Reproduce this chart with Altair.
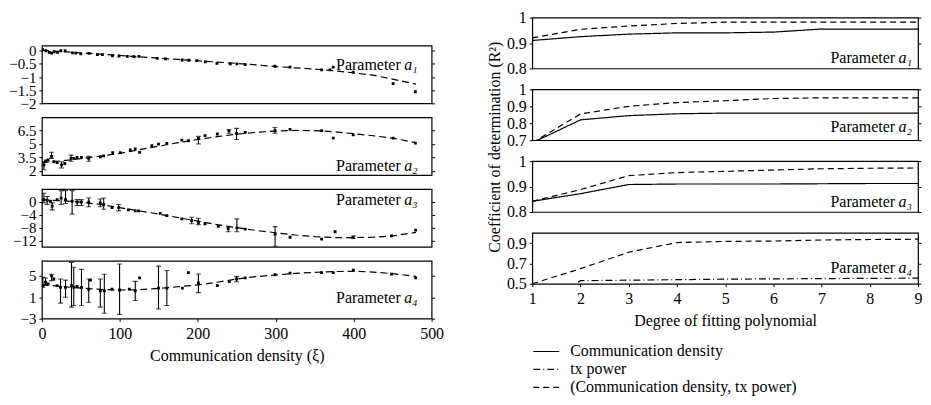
import altair as alt
import pandas as pd

FONT = "Liberation Serif"
FS = 16

# ---------------- left column: parameters vs communication density ----------------
FIT_X = [0, 25, 50, 75, 100, 125, 150, 175, 200, 225, 250, 275, 300, 325, 350, 375, 400, 425, 450, 480]

A1_X = [0.85, 5.1, 9.4, 12.4, 15.8, 20, 24.3, 29.8, 39.2, 43.5, 49.9, 60.5, 71.2, 77.6, 90.4, 98.9, 109.5, 118, 124.5, 148,
        158.6, 180, 188.4, 199, 209.7, 224.6, 241.7, 250.2, 260.9, 299, 318.4, 359, 369.6, 373.8, 399.4, 450.6, 479.1]
A1_Y = [0.04, 0, -0.06, -0.09, -0.04, -0.06, 0, 0, -0.08, -0.09, -0.12, -0.1, -0.15, -0.15, -0.19, -0.2, -0.21, -0.22, -0.21, -0.29,
        -0.31, -0.35, -0.36, -0.375, -0.42, -0.48, -0.5, -0.5, -0.525, -0.59, -0.625, -0.725, -0.725, -0.625, -0.81, -1.25, -1.56]
A1_EX = []
A1_LO = []
A1_HI = []
A1_FIT = [0.02, -0.03, -0.08, -0.13, -0.18, -0.23, -0.28, -0.33, -0.38, -0.43, -0.48, -0.54, -0.6, -0.65, -0.7, -0.76, -0.84, -0.93, -1.08, -1.27]

A2_X = [2.6, 4.7, 8, 12.4, 15.3, 19.6, 25.2, 29.4, 37.5, 40.9, 45.1, 50.7, 60.1, 75, 79.3, 90.8, 100.6, 113.4, 119.8, 125.3,
        141.1, 149.6, 160.3, 179.5, 188, 200.8, 209.3, 225.1, 240, 249.8, 260.9, 299, 318.4, 359, 373.8, 399.4, 450.6, 479.1]
A2_Y = [2.64, 3.1, 3.2, 3.6, 3.0, 2.9, 2.64, 2.8, 3.38, 3.38, 3.5, 3.5, 3.38, 3.56, 3.67, 4.03, 4.03, 4.33, 4.44, 4.06,
        4.8, 4.99, 5.06, 5.43, 5.36, 5.63, 5.93, 6.12, 6.5, 6.2, 6.31, 6.5, 6.65, 6.5, 5.65, 6.02, 5.65, 5.09]
A2_EX = [2.6, 12.4, 25.2, 37.5, 60.1, 200.8, 240, 249.8, 299]
A2_LO = [2.1, 3.38, 2.3, 3.05, 3.06, 5.0, 6.2, 5.5, 6.2]
A2_HI = [3.0, 4.06, 3.0, 3.75, 3.6, 5.85, 6.6, 6.75, 6.85]
A2_FIT = [2.9, 3.1, 3.35, 3.62, 3.95, 4.35, 4.75, 5.15, 5.5, 5.82, 6.1, 6.3, 6.45, 6.52, 6.5, 6.38, 6.15, 5.92, 5.65, 5.15]

A3_X = [2.6, 6.8, 11, 13.2, 19.6, 24.7, 30.3, 38.8, 45.2, 50.7, 60.1, 74.9, 79.3, 89.9, 98.5, 111, 119.8, 124, 151.8, 160.3,
        179.5, 192.2, 200.8, 209.3, 226.3, 239.1, 250.2, 260.9, 299.2, 318.4, 358.9, 376.2, 399.6, 448.6, 479.5]
A3_Y = [0.72, 0.5, 0.2, -1.3, 0.7, 1.2, 0.7, 0.2, -0.1, -0.1, -0.1, -0.3, -0.8, -1.8, -1.8, -2.5, -2.8, -2.8, -3.6, -4.3,
        -5.3, -5.8, -6.5, -6.8, -7.6, -8.3, -8.1, -8.5, -10.1, -11.0, -11.6, -9.3, -11.0, -10.6, -8.8]
A3_EX = [2.6, 6.8, 13.2, 24.7, 30.3, 38.8, 45.2, 50.7, 60.1, 74.9, 79.3, 98.5, 192.2, 200.8, 239.1, 250.2, 299.2, 399.6]
A3_LO = [-0.3, -0.8, -2.5, -0.8, -0.5, -3.8, -1.1, -1.1, -1.5, -1.5, -2.3, -2.8, -6.8, -7.1, -9.3, -9.3, -13.8, -11.4]
A3_HI = [2.7, 1.7, -0.3, 3.5, 3.5, 3.5, 0.7, 0.7, 1.2, 0.9, 1.2, -0.8, -4.8, -5.1, -7.8, -5.3, -7.7, -10.6]
A3_FIT = [0.6, 0.4, -0.1, -0.8, -1.8, -2.8, -3.8, -4.9, -6.0, -7.1, -8.0, -8.9, -9.6, -10.3, -10.8, -11.1, -11.1, -11.0, -10.6, -9.5]

A4_X = [1.3, 4.7, 8, 12.4, 15.3, 19.6, 23.9, 30.3, 38, 40.9, 45.1, 50.8, 60.1, 62.3, 75, 80.1, 89.9, 99.7, 112.1, 119.8,
        125.3, 149.6, 160.3, 180.3, 188, 200.8, 225.1, 240.4, 249.8, 260.9, 299.2, 318.4, 358.9, 373.8, 399.6, 448.6, 479.5]
A4_Y = [3.15, 3.8, 3.5, 5.0, 4.4, 3.15, 2.85, 2.85, 3.15, 2.85, 3.0, 2.85, 2.5, 4.2, 2.2, 2.2, 2.5, 2.35, 2.5, 2.2,
        4.6, 2.7, 2.7, 2.7, 5.6, 3.65, 3.15, 3.9, 4.4, 4.6, 5.2, 5.5, 5.6, 5.6, 6.05, 5.3, 4.6]
A4_EX = [1.3, 4.7, 12.4, 23.9, 30.3, 38, 40.9, 50.8, 60.1, 75, 80.1, 99.7, 119.8, 149.6, 160.3, 200.8, 249.8]
A4_LO = [2.85, 3.2, 4.1, -0.1, 1.0, -0.85, -0.55, -0.55, 0.06, -0.85, -2, -2.2, 0.38, -1.2, -0.55, 1.85, 3.9]
A4_HI = [4.7, 4.6, 5.3, 4.4, 4.2, 7.5, 6.6, 6.2, 4.4, 4.4, 5.3, 7.2, 3.96, 6.8, 6.0, 5.35, 4.9]
A4_FIT = [3.4, 3.0, 2.7, 2.45, 2.35, 2.4, 2.65, 2.95, 3.3, 3.8, 4.4, 4.85, 5.15, 5.45, 5.65, 5.8, 5.85, 5.7, 5.4, 4.9]

X_TICKS_LEFT = [0, 100, 200, 300, 400, 500]

# ---------------- right column: R^2 vs polynomial degree ----------------
DEG = [1, 2, 3, 4, 5, 6, 7, 8, 9]
SERIES = ["Communication density", "tx power", "(Communication density, tx power)"]
DASHES = [[1, 0], [7, 3, 1, 3], [6, 4]]

R1_CD = [0.91, 0.925, 0.935, 0.94, 0.94, 0.943, 0.955, 0.955, 0.955]
R1_JOINT = [0.92, 0.954, 0.967, 0.977, 0.982, 0.982, 0.982, 0.982, 0.982]
R2_CD = [0.685, 0.82, 0.845, 0.856, 0.86, 0.86, 0.86, 0.86, 0.86]
R2_JOINT = [0.685, 0.855, 0.9, 0.922, 0.933, 0.946, 0.95, 0.95, 0.95]
R3_CD = [0.842, 0.872, 0.908, 0.91, 0.91, 0.91, 0.911, 0.912, 0.912]
R3_JOINT = [0.842, 0.888, 0.943, 0.955, 0.96, 0.965, 0.97, 0.972, 0.973]
R4_TX = [0.2, 0.53, 0.535, 0.54, 0.545, 0.548, 0.55, 0.553, 0.555]
R4_JOINT = [0.5, 0.648, 0.81, 0.905, 0.916, 0.92, 0.93, 0.935, 0.938]

LW, LH = 391, 58
RW, RH = 387, 51
FMT = ".2~f"


def param_text(label, x, y):
    base = alt.Chart(pd.DataFrame({"t": ["Parameter"], "s": [label]}))
    t1 = base.mark_text(font=FONT, fontSize=FS, align="right", baseline="middle", color="black").encode(
        text="t:N", x=alt.value(x - 17), y=alt.value(y))
    t2 = base.mark_text(font=FONT, fontSize=FS, fontStyle="italic", align="right", baseline="middle",
                        color="black").encode(text="s:N", x=alt.value(x), y=alt.value(y))
    return [t1, t2]


def mirror_ticks(df, xenc, field, ys, ticks):
    """invisible layer that only carries a tick-only axis on the right edge"""
    return alt.Chart(df).mark_line(opacity=0).encode(
        x=xenc,
        y=alt.Y(field, scale=ys, axis=alt.Axis(orient="right", values=ticks, labels=False, tickSize=3,
                                                title=None)))


def left_panel(px, py, ex, elo, ehi, fy, domain, ticks, label, label_y, bottom):
    xs = alt.Scale(domain=[0, 500], nice=False)
    ys = alt.Scale(domain=domain, nice=False, zero=False)
    if bottom:
        xax = alt.Axis(values=X_TICKS_LEFT, title="Communication density (ξ)", format="d", labelPadding=4,
                       titlePadding=6, tickSize=3, labelFlush=False, labelOverlap=False)
    else:
        xax = alt.Axis(values=X_TICKS_LEFT, labels=False, ticks=False, title=None)
    yax = alt.Axis(values=ticks, title=None, format=FMT, labelPadding=3, tickSize=3, labelOverlap=False,
                   labelFontSize=15)
    X = alt.X("x:Q", scale=xs, axis=xax)
    fitdf = pd.DataFrame({"x": FIT_X, "y": fy})
    fit = alt.Chart(fitdf).mark_line(
        color="black", strokeWidth=1.2, strokeDash=[7, 4], clip=True).encode(
        x=X, y=alt.Y("y:Q", scale=ys, axis=yax))
    pts = alt.Chart(pd.DataFrame({"x": px, "y": py})).mark_point(
        filled=True, shape="square", size=8, color="black", opacity=1, clip=True).encode(
        x=X, y=alt.Y("y:Q", scale=ys, axis=yax))
    layers = [fit, pts]
    if ex:
        edf = pd.DataFrame({"x": ex, "lo": elo, "hi": ehi})
        eb = alt.Chart(edf)
        layers.append(eb.mark_rule(color="black", strokeWidth=1.1, clip=True).encode(
            x=X, y=alt.Y("lo:Q", scale=ys, axis=yax), y2="hi:Q"))
        layers.append(eb.mark_tick(color="black", orient="horizontal", size=5, thickness=1.1, clip=True).encode(
            x=X, y=alt.Y("lo:Q", scale=ys, axis=yax)))
        layers.append(eb.mark_tick(color="black", orient="horizontal", size=5, thickness=1.1, clip=True).encode(
            x=X, y=alt.Y("hi:Q", scale=ys, axis=yax)))
    layers += param_text(label, LW - 14, label_y)
    main = alt.layer(*layers)
    return alt.layer(main, mirror_ticks(fitdf, X, "y:Q", ys, ticks)).resolve_axis(
        y="independent").properties(width=LW, height=LH)


def right_panel(series_vals, domain, ticks, label, label_y, bottom, legend=None, extra=None):
    rows = []
    for name, vals in series_vals:
        for d, v in zip(DEG, vals):
            rows.append({"deg": d, "r2": v, "series": name})
    df = pd.DataFrame(rows)
    xs = alt.Scale(domain=[1, 9], nice=False)
    ys = alt.Scale(domain=domain, nice=False, zero=False)
    if bottom:
        xax = alt.Axis(values=DEG, title="Degree of fitting polynomial", format="d", labelPadding=4,
                       titlePadding=6, tickSize=3, labelFlush=False, labelOverlap=False)
    else:
        xax = alt.Axis(values=DEG, labels=False, ticks=False, title=None)
    yax = alt.Axis(values=ticks, title=None, format=FMT, labelPadding=3, tickSize=3, labelOverlap=False)
    if legend is None:
        sd = alt.StrokeDash("series:N", scale=alt.Scale(domain=SERIES, range=DASHES), legend=None)
    else:
        sd = alt.StrokeDash("series:N", scale=alt.Scale(domain=SERIES, range=DASHES), legend=legend)
    X = alt.X("deg:Q", scale=xs, axis=xax)
    line = alt.Chart(df).mark_line(color="black", strokeWidth=1.2, clip=True).encode(
        x=X, y=alt.Y("r2:Q", scale=ys, axis=yax), strokeDash=sd)
    layers = [line] + param_text(label, RW - 6, label_y)
    if extra is not None:
        layers.append(extra)
    main = alt.layer(*layers)
    return alt.layer(main, mirror_ticks(df, X, "r2:Q", ys, ticks)).resolve_axis(
        y="independent").properties(width=RW, height=RH)


spacer = alt.Chart(pd.DataFrame({"a": [0]})).mark_point(opacity=0, size=4).encode(
    x=alt.value(10), y=alt.value(5)).properties(width=LW, height=14, view=alt.ViewBackground(strokeOpacity=0))

left = alt.vconcat(
    spacer,
    left_panel(A1_X, A1_Y, A1_EX, A1_LO, A1_HI, A1_FIT, [-2, 0.2], [-2, -1.5, -1, -0.5, 0], "a₁", 20, False),
    left_panel(A2_X, A2_Y, A2_EX, A2_LO, A2_HI, A2_FIT, [1.5, 8], [2, 3.5, 5, 6.5], "a₂", 49, False),
    left_panel(A3_X, A3_Y, A3_EX, A3_LO, A3_HI, A3_FIT, [-14, 4], [-12, -8, -4, 0], "a₃", 11, False),
    left_panel(A4_X, A4_Y, A4_EX, A4_LO, A4_HI, A4_FIT, [-3, 7.8], [-3, 1, 5], "a₄", 37, True),
    spacing=14, bounds="flush",
)

ytitle = alt.Chart(pd.DataFrame({"t": ["Coefficient of determination (R²)"]})).mark_text(
    font=FONT, fontSize=FS, angle=270, align="center", baseline="middle", color="black").encode(
    text="t:N", x=alt.value(-37), y=alt.value(58))

legend = alt.Legend(orient="none", legendX=0, legendY=111, title=None, symbolType="stroke",
                    symbolStrokeColor="black", symbolStrokeWidth=1.2, symbolSize=676, clipHeight=16,
                    labelFont=FONT, labelFontSize=FS, labelColor="black", labelOffset=10, labelLimit=400,
                    rowPadding=2, direction="vertical")

right = alt.vconcat(
    right_panel([(SERIES[0], R1_CD), (SERIES[2], R1_JOINT)], [0.8, 1], [0.8, 0.9, 1], "a₁", 41, False),
    right_panel([(SERIES[0], R2_CD), (SERIES[2], R2_JOINT)], [0.7, 1], [0.7, 0.8, 0.9, 1], "a₂", 38, False,
                extra=ytitle),
    right_panel([(SERIES[0], R3_CD), (SERIES[2], R3_JOINT)], [0.8, 1], [0.8, 0.9, 1], "a₃", 41, False),
    right_panel([(SERIES[1], R4_TX), (SERIES[2], R4_JOINT)], [0.5, 1], [0.5, 0.7, 0.9], "a₄", 35, True,
                legend=legend),
    spacing=21, bounds="flush",
).resolve_scale(strokeDash="independent").resolve_legend(strokeDash="independent")

chart = alt.hconcat(left, right, spacing=42).properties(
    padding={"left": 0, "top": 0, "right": 0, "bottom": 0}
).configure_view(
    stroke="black", strokeWidth=1.2
).configure_axis(
    labelFont=FONT, labelFontSize=FS, labelColor="black", titleFont=FONT, titleFontSize=FS,
    titleColor="black", titleFontWeight="normal", tickColor="black", domain=False, grid=False
)

chart.save("out.html", embed_options={"renderer": "svg", "actions": False})
